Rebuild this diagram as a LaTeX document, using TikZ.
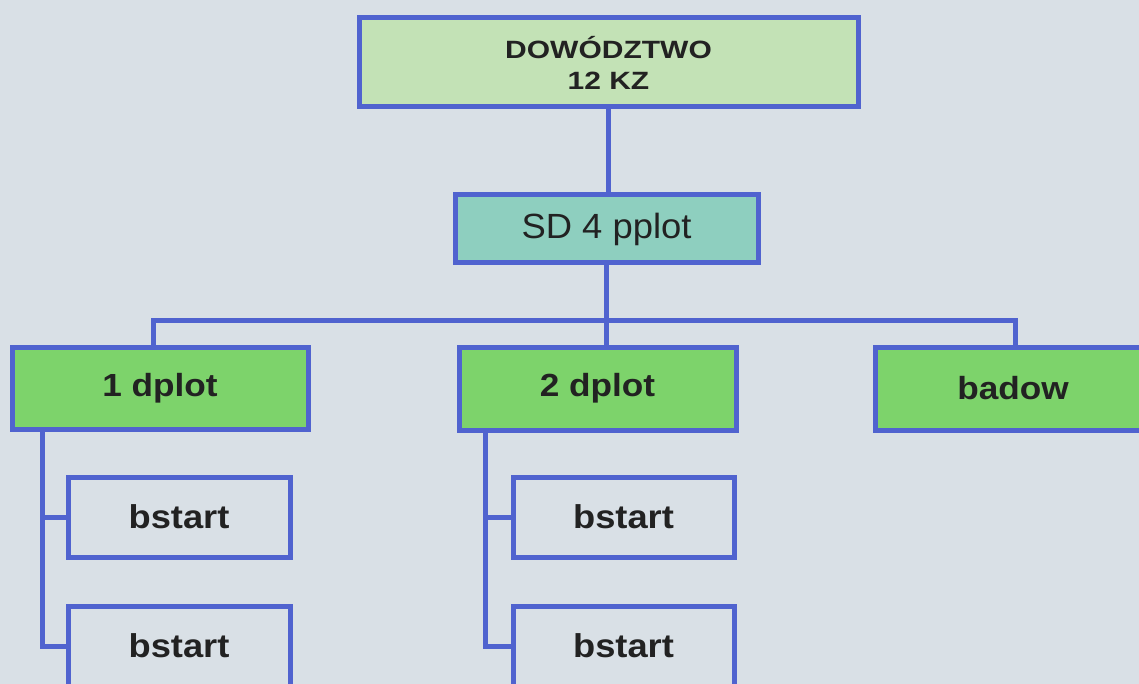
\documentclass[tikz,border=0pt]{standalone}
\usepackage{fontspec}
\setmainfont{Liberation Sans}
\newfontfamily\widefont[FakeStretch=1.2]{Liberation Sans}
\newfontfamily\midfont[FakeStretch=1.1]{Liberation Sans}
\newfontfamily\slimfont[FakeStretch=1.04]{Liberation Sans}
\definecolor{bgc}{HTML}{D9E0E6}
\definecolor{edgec}{HTML}{5063CF}
\definecolor{topfill}{HTML}{C3E2B6}
\definecolor{sdfill}{HTML}{8ECFBF}
\definecolor{grfill}{HTML}{7DD36B}
\definecolor{txt}{HTML}{222222}
\tikzset{
  box/.style={draw=edgec, line width=5pt, inner sep=0pt, outer sep=0pt, text=txt, align=center},
  link/.style={draw=edgec, line width=5pt, line cap=rect},
  topbox/.style={box, fill=topfill, font=\widefont\bfseries\fontsize{25}{31}\selectfont},
  sdbox/.style={box, fill=sdfill, font=\slimfont\fontsize{35}{40}\selectfont},
  unitbox/.style={box, fill=grfill, font=\midfont\bfseries\fontsize{32}{36}\selectfont},
  batbox/.style={box, fill=bgc, font=\midfont\bfseries\fontsize{33}{36}\selectfont}
}
\begin{document}
\begin{tikzpicture}[x=1pt,y=-1pt]
\useasboundingbox (0,0) rectangle (1139,684);
\clip (0,0) rectangle (1139,684);
\fill[bgc] (0,0) rectangle (1139,684);

\node[topbox, minimum width=499pt, minimum height=89pt] (top) at (608.5,62.5) {DOWÓDZTWO\\12 KZ};
\node[sdbox, minimum width=303pt, minimum height=68pt] (sd) at (606.5,229) {SD 4 pplot};

\node[unitbox, minimum width=296pt, minimum height=82pt] (d1) at (160,388) {1 dplot};
\node[unitbox, minimum width=277pt, minimum height=83pt] (d2) at (597.5,388.5) {2 dplot};
\node[unitbox, minimum width=276pt, minimum height=83pt] (bd) at (1013,388.5) {badow};

\node[batbox, minimum width=222pt, minimum height=80pt] (b11) at (179,517) {bstart};
\node[batbox, minimum width=222pt, minimum height=80pt] (b12) at (179,646) {bstart};
\node[batbox, minimum width=221pt, minimum height=80pt] (b21) at (623.5,517) {bstart};
\node[batbox, minimum width=221pt, minimum height=80pt] (b22) at (623.5,646) {bstart};

\coordinate (bus) at (0,320);
\coordinate (s1) at (42,0);
\coordinate (s2) at (485,0);

\draw[link] (top.south) -- (top.south |- sd.north);
\draw[link] (sd.south) -- (sd.south |- d2.north);
\draw[link] ([xshift=-7pt]d1.north) -- ([xshift=-7pt]d1.north |- bus) -- ([xshift=2pt]bd.north |- bus) -- ([xshift=2pt]bd.north);

\draw[link] (s1 |- d1.south) -- (s1 |- b12.west) -- (b12.west);
\draw[link] (b11.west) -- (b11.west -| s1);
\draw[link] (s2 |- d2.south) -- (s2 |- b22.west) -- (b22.west);
\draw[link] (b21.west) -- (b21.west -| s2);
\end{tikzpicture}
\end{document}
